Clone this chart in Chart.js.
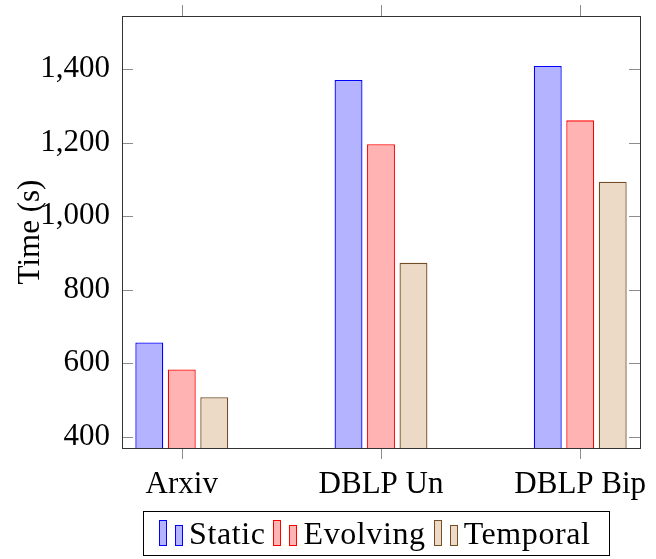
<!DOCTYPE html>
<html>
<head>
<meta charset="utf-8">
<script src="https://cdn.jsdelivr.net/npm/chart.js@4.4.1/dist/chart.umd.min.js"></script>
<style>
  body { margin: 0; background: #fff; }
  #wrap { position: relative; width: 656px; height: 559px; }
  #legend {
    position: absolute; left: 143px; top: 511px; width: 450px; height: 43px;
    border: 1px solid #000; display: flex; align-items: center;
    font-family: "Liberation Serif", serif; font-size: 32px; color: #000;
    box-sizing: content-box; padding-left: 15px; letter-spacing: 0.6px;
  }
  .item { display: flex; align-items: flex-end; margin-right: 8px; }
  .ico { display: inline-block; width: 6px; border: 1px solid; margin-right: 8px; margin-bottom: 9px; }
  .ico.a { height: 24px; }
  .ico.b { height: 19px; margin-right: 6px; }
  .lbl { line-height: 43px; }
</style>
</head>
<body>
<div id="wrap">
  <canvas id="grafik" width="656" height="559"></canvas>
  <div id="legend"></div>
</div>
<script>
// ── Data ────────────────────────────────────────────
const kategori = ['Arxiv', 'DBLP Un', 'DBLP Bip'];
const seri = ['Static', 'Evolving', 'Temporal'];
const nilaiStatic = [656, 1371, 1409];
const nilaiEvolving = [583, 1196, 1261];
const nilaiTemporal = [507, 873, 1094];
const yTicks = [400, 600, 800, 1000, 1200, 1400];

const warnaIsi = ['#b3b3ff', '#ffb3b3', '#ecd9c6'];
const warnaGaris = ['#0000ff', '#ff0000', '#734d26'];

const FONT = '"Liberation Serif", serif';

function titik(arr) { return arr.map(function (v, i) { return { x: i, y: v }; }); }

// ── Bingkai + tick ala pgfplots ─────────────────────
const bingkai = {
  id: 'bingkai',
  afterDatasetsDraw: function (chart) {
    const ctx = chart.ctx, a = chart.chartArea, x = chart.scales.x, y = chart.scales.y;
    ctx.save();
    ctx.lineWidth = 1;
    ctx.strokeStyle = '#8c8c8c';
    ctx.beginPath();
    yTicks.forEach(function (v) {
      const py = Math.round(y.getPixelForValue(v)) + 0.5;
      ctx.moveTo(a.left, py); ctx.lineTo(a.left + 11, py);
      ctx.moveTo(a.right, py); ctx.lineTo(a.right - 11, py);
    });
    kategori.forEach(function (k, i) {
      const px = Math.round(x.getPixelForValue(i)) + 0.5;
      ctx.moveTo(px, a.top); ctx.lineTo(px, a.top - 11);
      ctx.moveTo(px, a.bottom); ctx.lineTo(px, a.bottom + 11);
    });
    ctx.stroke();
    ctx.strokeStyle = '#333';
    ctx.strokeRect(Math.round(a.left) + 0.5, Math.round(a.top) + 0.5,
                   Math.round(a.width), Math.round(a.height));
    ctx.restore();
  }
};

function nolPadding(s) { s.paddingTop = 0; s.paddingBottom = 0; s.paddingLeft = 0; s.paddingRight = 0; }

const ctxGrafik = document.getElementById('grafik');
new Chart(ctxGrafik.getContext('2d'), {
  type: 'bar',
  data: {
    datasets: [nilaiStatic, nilaiEvolving, nilaiTemporal].map(function (d, i) {
      return {
        label: seri[i], data: titik(d),
        backgroundColor: warnaIsi[i], borderColor: warnaGaris[i], borderWidth: 1.3,
        categoryPercentage: 0.489, barPercentage: 0.86
      };
    })
  },
  options: {
    responsive: false, animation: false, devicePixelRatio: 1,
    layout: { padding: { top: 16, right: 16, left: 0, bottom: 0 } },
    plugins: { legend: { display: false }, tooltip: { enabled: false } },
    scales: {
      x: {
        type: 'linear', min: -0.3, max: 2.3, offset: false,
        grid: { display: false, offset: false, drawTicks: false }, border: { display: false },
        afterBuildTicks: function (s) { s.ticks = kategori.map(function (k, i) { return { value: i }; }); },
        afterFit: function (s) { s.height = 111; nolPadding(s); },
        ticks: {
          autoSkip: false, maxRotation: 0, padding: 18, color: '#000',
          font: { family: FONT, size: 31 },
          callback: function (v) { return kategori[v]; }
        }
      },
      y: {
        min: 369, max: 1545,
        grid: { display: false, drawTicks: false }, border: { display: false },
        afterBuildTicks: function (s) { s.ticks = yTicks.map(function (v) { return { value: v }; }); },
        afterFit: function (s) { s.width = 122; nolPadding(s); },
        title: { display: true, text: 'Time (s)', color: '#000', font: { family: FONT, size: 31 }, padding: { top: 12, bottom: 0 } },
        ticks: {
          padding: 12, color: '#000', font: { family: FONT, size: 31 },
          callback: function (v) { return v.toLocaleString('en-US'); }
        }
      }
    }
  },
  plugins: [bingkai]
});

// ── Legenda HTML ────────────────────────────────────
const leg = document.getElementById('legend');
seri.forEach(function (s, i) {
  const it = document.createElement('span');
  it.className = 'item';
  ['a', 'b'].forEach(function (c) {
    const b = document.createElement('span');
    b.className = 'ico ' + c;
    b.style.background = warnaIsi[i];
    b.style.borderColor = warnaGaris[i];
    it.appendChild(b);
  });
  const t = document.createElement('span');
  t.className = 'lbl';
  t.textContent = s;
  it.appendChild(t);
  leg.appendChild(it);
});
</script>
</body>
</html>
